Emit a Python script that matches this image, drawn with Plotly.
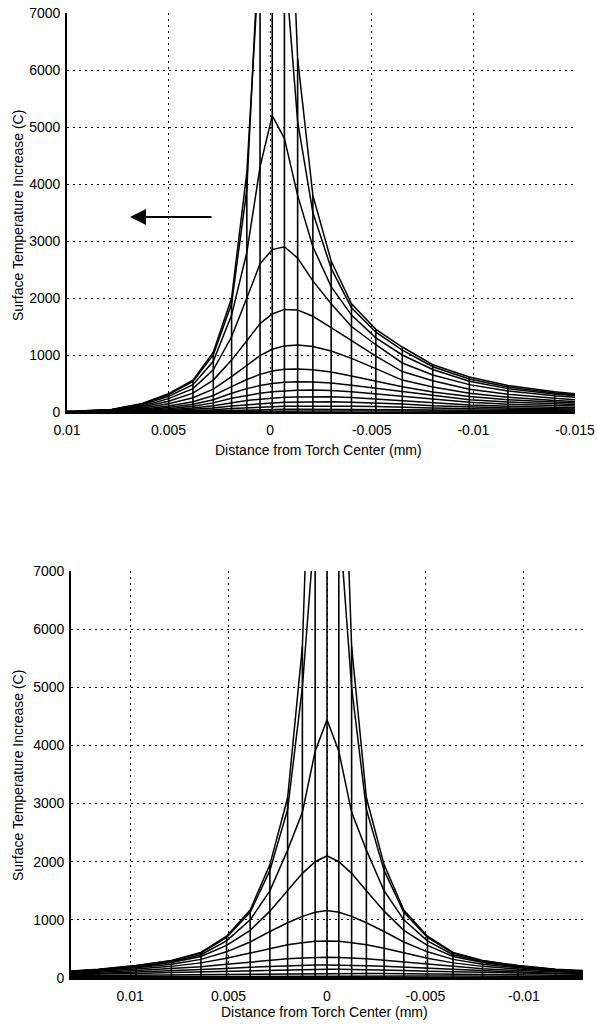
import plotly.graph_objects as go

# ---------------- data: top panel (moving torch) ----------------
top_x = [0.0115, 0.0096, 0.0078, 0.0063, 0.0050, 0.0038, 0.0028, 0.0019, 0.00115, 0.0005,
         -0.0001, -0.0007, -0.00135, -0.0021, -0.0030, -0.0040, -0.0052, -0.0065, -0.0080,
         -0.0098, -0.0117, -0.0140, -0.0166]

top_d00 = [2, 12, 45, 150, 320, 560, 1050, 2000, 4200, 8200, 20000, 12000, 6200, 3800, 2650, 1900, 1450, 1140, 830, 615, 465, 355, 265]
top_d01 = [2, 11, 42, 140, 305, 535, 1000, 1900, 3900, 7700, 13000, 8000, 5100, 3500, 2520, 1830, 1400, 1085, 795, 580, 440, 335, 250]
top_d02 = [2, 10, 38, 125, 275, 480, 890, 1700, 2800, 4300, 5200, 4800, 3800, 2900, 2200, 1700, 1300, 1000, 745, 540, 410, 315, 235]
top_d03 = [1, 8, 32, 105, 235, 410, 740, 1320, 2000, 2600, 2850, 2900, 2700, 2300, 1900, 1500, 1180, 860, 650, 480, 370, 285, 215]
top_d04 = [1, 6, 25, 88, 190, 330, 560, 910, 1250, 1550, 1720, 1800, 1790, 1680, 1480, 1250, 980, 710, 550, 400, 310, 240, 180]
top_d05 = [0, 5, 19, 66, 145, 250, 400, 620, 820, 990, 1100, 1160, 1175, 1150, 1070, 940, 760, 560, 440, 330, 260, 200, 155]
top_d06 = [0, 3, 13, 48, 105, 180, 290, 445, 570, 660, 720, 750, 755, 740, 700, 630, 540, 445, 350, 270, 215, 170, 130]
top_d07 = [0, 2, 9, 34, 78, 135, 215, 330, 410, 465, 500, 520, 530, 528, 510, 470, 415, 355, 290, 215, 175, 140, 110]
top_d08 = [0, 1, 6, 24, 56, 100, 160, 240, 290, 330, 355, 372, 380, 385, 378, 355, 315, 270, 220, 170, 135, 110, 88]
top_d09 = [0, 1, 4, 16, 38, 70, 110, 165, 200, 225, 245, 258, 265, 270, 268, 255, 230, 200, 160, 125, 100, 80, 64]
top_d10 = [0, 0, 2, 10, 24, 45, 70, 105, 128, 145, 160, 170, 176, 180, 180, 173, 160, 140, 110, 85, 68, 55, 44]
top_d11 = [0, 0, 1, 6, 14, 26, 40, 62, 76, 86, 94, 99, 103, 105, 105, 102, 98, 90, 70, 55, 45, 36, 29]
top_d12 = [0, 0, 1, 3, 7, 12, 20, 30, 37, 42, 46, 48, 50, 50, 50, 48, 45, 40, 33, 26, 21, 17, 14]
top_d13 = [0, 0, 0, 1, 3, 5, 8, 12, 15, 17, 18, 19, 20, 20, 20, 19, 18, 16, 13, 10, 8, 7, 6]

# ---------------- data: bottom panel (stationary torch) ----------------
bot_x = [0.0165, 0.0139, 0.0116, 0.0097, 0.0079, 0.0064, 0.0051, 0.0039, 0.0029, 0.0020, 0.00125, 0.0006, 0.0,
         -0.0006, -0.00125, -0.0020, -0.0029, -0.0039, -0.0051, -0.0064, -0.0079, -0.0097, -0.0116, -0.0139, -0.0165]

bot_d00 = [70, 100, 150, 215, 300, 440, 720, 1170, 1950, 3100, 5700, 12000, 40000, 12000, 5700, 3100, 1950, 1170, 720, 440, 300, 215, 150, 100, 70]
bot_d01 = [68, 98, 148, 210, 295, 430, 700, 1130, 1850, 2900, 5000, 8000, 10500, 8000, 5000, 2900, 1850, 1130, 700, 430, 295, 210, 148, 98, 68]
bot_d02 = [66, 95, 142, 200, 280, 400, 640, 1000, 1500, 2200, 2850, 3900, 4440, 3900, 2850, 2200, 1500, 1000, 640, 400, 280, 200, 142, 95, 66]
bot_d03 = [64, 92, 136, 190, 265, 370, 560, 820, 1150, 1500, 1800, 2000, 2100, 2000, 1800, 1500, 1150, 820, 560, 370, 265, 190, 136, 92, 64]
bot_d04 = [62, 88, 128, 175, 235, 320, 450, 620, 800, 950, 1060, 1130, 1160, 1130, 1060, 950, 800, 620, 450, 320, 235, 175, 128, 88, 62]
bot_d05 = [58, 82, 116, 155, 200, 260, 340, 430, 510, 570, 605, 630, 637, 630, 605, 570, 510, 430, 340, 260, 200, 155, 116, 82, 58]
bot_d06 = [54, 74, 100, 128, 160, 195, 235, 275, 305, 330, 345, 354, 356, 354, 345, 330, 305, 275, 235, 195, 160, 128, 100, 74, 54]
bot_d07 = [48, 63, 82, 102, 122, 145, 165, 185, 200, 212, 219, 223, 224, 223, 219, 212, 200, 185, 165, 145, 122, 102, 82, 63, 48]
bot_d08 = [40, 52, 66, 79, 93, 106, 118, 129, 137, 143, 147, 149, 150, 149, 147, 143, 137, 129, 118, 106, 93, 79, 66, 52, 40]
bot_d09 = [29, 36, 43, 50, 57, 63, 68, 72, 76, 78, 80, 81, 81, 81, 80, 78, 76, 72, 68, 63, 57, 50, 43, 36, 29]
bot_d10 = [17, 20, 24, 27, 30, 33, 35, 37, 38, 39, 40, 40, 40, 40, 40, 39, 38, 37, 35, 33, 30, 27, 24, 20, 17]
bot_d11 = [8, 9, 10, 11, 12, 13, 14, 14, 14, 15, 15, 15, 15, 15, 15, 15, 14, 14, 14, 13, 12, 11, 10, 9, 8]

top_curves = [top_d00, top_d01, top_d02, top_d03, top_d04, top_d05, top_d06,
              top_d07, top_d08, top_d09, top_d10, top_d11, top_d12, top_d13]
bot_curves = [bot_d00, bot_d01, bot_d02, bot_d03, bot_d04, bot_d05,
              bot_d06, bot_d07, bot_d08, bot_d09, bot_d10, bot_d11]

top_ticks = [0.01, 0.005, 0, -0.005, -0.01, -0.015]
top_ticktext = ["0.01", "0.005", "0", "-0.005", "-0.01", "-0.015"]
bot_ticks = [0.01, 0.005, 0, -0.005, -0.01]
bot_ticktext = ["0.01", "0.005", "0", "-0.005", "-0.01"]
y_ticks = [0, 1000, 2000, 3000, 4000, 5000, 6000, 7000]

W, H = 597, 1025
FONT = "Liberation Sans, Arial, sans-serif"

fig = go.Figure()


def add_mesh(xs, curves, xa, ya):
    # depth profiles
    for c in curves:
        fig.add_trace(go.Scatter(x=xs, y=c, mode="lines", xaxis=xa, yaxis=ya,
                                 line=dict(color="black", width=1.5),
                                 hoverinfo="skip", showlegend=False))
    # depth-direction lines at each x node (from 0 to max of the profiles)
    vx, vy = [], []
    for i, xv in enumerate(xs):
        col = [c[i] for c in curves]
        vx += [xv, xv, None]
        vy += [0, max(col), None]
    fig.add_trace(go.Scatter(x=vx, y=vy, mode="lines", xaxis=xa, yaxis=ya,
                             line=dict(color="black", width=1.6),
                             hoverinfo="skip", showlegend=False))


add_mesh(top_x, top_curves, "x", "y")
add_mesh(bot_x, bot_curves, "x2", "y2")

axis_common = dict(showgrid=True, gridcolor="black", griddash="2px,4px", gridwidth=1.2,
                   showline=True, linecolor="black", linewidth=1.8, zeroline=False,
                   automargin=False, ticks="",
                   tickfont=dict(family=FONT, size=14, color="black"))

fig.update_layout(
    width=W, height=H,
    margin=dict(l=0, r=0, t=0, b=0, pad=0, autoexpand=False),
    paper_bgcolor="white", plot_bgcolor="white",
    showlegend=False,
    xaxis=dict(domain=[67 / W, 575 / W], range=[0.01, -0.015], anchor="y",
               tickvals=top_ticks, ticktext=top_ticktext, ticklabelstandoff=4,
               **axis_common),
    yaxis=dict(domain=[1 - 412 / H, 1 - 13 / H], range=[0, 7000], anchor="x",
               tickvals=y_ticks, ticklabelstandoff=2, **axis_common),
    xaxis2=dict(domain=[71 / W, 583 / W], range=[0.013, -0.013], anchor="y2",
                tickvals=bot_ticks, ticktext=bot_ticktext, ticklabelstandoff=4,
                **axis_common),
    yaxis2=dict(domain=[1 - 978 / H, 1 - 571 / H], range=[0, 7000], anchor="x2",
                tickvals=y_ticks, ticklabelstandoff=2, **axis_common),
)

ann_font = dict(family=FONT, size=14, color="black")
ann_common = dict(xref="paper", yref="paper", showarrow=False, font=ann_font,
                  xanchor="center", yanchor="middle")
fig.add_annotation(x=18 / W, y=1 - 216 / H, text="Surface Temperature Increase (C)",
                   textangle=-90, **ann_common)
fig.add_annotation(x=318 / W, y=1 - 450 / H, text="Distance from Torch Center (mm)",
                   **ann_common)
fig.add_annotation(x=18 / W, y=1 - 776 / H, text="Surface Temperature Increase (C)",
                   textangle=-90, **ann_common)
fig.add_annotation(x=325 / W, y=1 - 1012 / H, text="Distance from Torch Center (mm)",
                   **ann_common)

# direction-of-travel arrow
fig.add_annotation(x=130 / W, y=1 - 217 / H, xref="paper", yref="paper",
                   ax=83, ay=0, text="", showarrow=True,
                   arrowhead=2, arrowsize=1.6, arrowwidth=2, arrowcolor="black")

fig.write_html("out.html")
